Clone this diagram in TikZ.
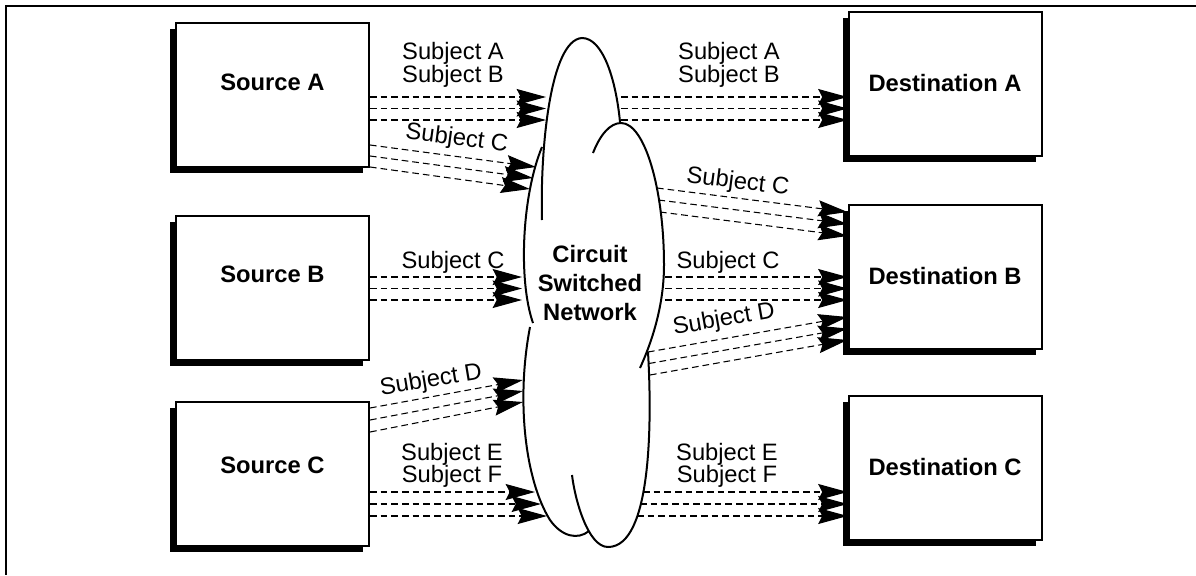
\documentclass[tikz,border=0pt]{standalone}
\usepackage{fontspec}
\setmainfont{Liberation Sans}
\usetikzlibrary{positioning, arrows.meta, calc, shadows}

\begin{document}
\begin{tikzpicture}[x=0.75pt, y=-0.75pt,
    box/.style={draw, line width=1.5pt, fill=white, minimum width=144.75pt, minimum height=108pt,
        inner sep=0pt, font=\fontsize{17.8pt}{21pt}\selectfont\bfseries,
        drop shadow={shadow xshift=-4.5pt, shadow yshift=-4.8pt, fill=black, opacity=1}},
    srclab/.style={font=\fontsize{17.8pt}{21pt}\selectfont\bfseries, inner sep=0pt},
    subj/.style={font=\fontsize{17.8pt}{16.9pt}\selectfont, inner sep=0pt},
    flow/.style={line width=0.8pt, dash pattern=on 5pt off 3pt,
        -{Stealth[length=22pt, width=12pt, inset=3pt]}},
    lobe/.style={line width=1.5pt}]

    \useasboundingbox (0,0) rectangle (1196,575);

    % Frame
    \draw[line width=1.5pt] (1196,6) -- (6,6) -- (6,575);

    % --- Sources ---
    \node[box, label={[srclab, yshift=9.4pt]center:Source A}] (srcA) at (272.5,95) {};
    \node[box, label={[srclab, yshift=10.5pt]center:Source B}] (srcB) at (272.5,288) {};
    \node[box, label={[srclab, yshift=6.2pt]center:Source C}] (srcC) at (272.5,473.5) {};

    % --- Destinations ---
    \node[box] (dstA) at (945,83.5) {Destination A};
    \node[box] (dstB) at (945,276.5) {Destination B};
    \node[box] (dstC) at (945,467.5) {Destination C};

    % --- Cloud ---
    \draw[lobe] (542,220) .. controls (540,150) and (550,40) .. (582,38)
        .. controls (603,38) and (616,80) .. (620,122);
    \draw[lobe] (593,153) .. controls (600,135) and (610,123) .. (621,123)
        .. controls (645,123) and (664,190) .. (664,265)
        .. controls (664,300) and (655,335) .. (640,368);
    \draw[lobe] (648,352) .. controls (652,420) and (652,547) .. (608,547)
        .. controls (588,547) and (575,500) .. (572,475);
    \draw[lobe] (530,327) .. controls (516,400) and (525,480) .. (550,520)
        .. controls (562,537) and (578,540) .. (589,531);
    \draw[lobe] (542,147) .. controls (522,195) and (518,280) .. (533,323);
    \node[align=center, inner sep=0pt, font=\fontsize{17.8pt}{21.75pt}\selectfont\bfseries]
        (net) at (590,283.5) {Circuit\\Switched\\Network};

    % Ports on the cloud
    \coordinate (inAB) at (546,97);
    \coordinate (inAC) at (536,167);
    \coordinate (inBC) at (522,277);
    \coordinate (inCD) at (523,380);
    \coordinate (inCE) at (535,492);
    \coordinate (outAB) at (621,97);
    \coordinate (outBC) at (657,188);
    \coordinate (outBCh) at (665,277);
    \coordinate (outBD) at (648,352);
    \coordinate (outCE) at (643,492);

    % --- Sources to cloud ---
    \foreach \k in {0,1,2} {
        \draw[flow] ($(srcA.east)+(0,2+11.5*\k)$) -- ($(inAB)+(0,11.5*\k)$);
        \draw[flow] ($(srcA.east)+(0,50+11*\k)$) -- ($(inAC)+(-3*\k,11*\k)$);
        \draw[flow] ($(srcB.east)+(0,-11+11.5*\k)$) -- ($(inBC)+(0,11.5*\k)$);
        \draw[flow] ($(srcC.east)+(0,-65.5+12*\k)$) -- ($(inCD)+(0,11*\k)$);
        \draw[flow] ($(srcC.east)+(0,18.5+12*\k)$) -- ($(inCE)+(6*\k,12*\k)$);
    }

    % --- Cloud to destinations ---
    \foreach \k in {0,1,2} {
        \draw[flow] ($(outAB)+(0,11.5*\k)$) -- ($(dstA.west)+(0,13.5+11.5*\k)$);
        \draw[flow] ($(outBC)+(1.5*\k,12*\k)$) -- ($(dstB.west)+(0,-64.5+12*\k)$);
        \draw[flow] ($(outBCh)+(0,11.5*\k)$) -- ($(dstB.west)+(0,0.5+11.5*\k)$);
        \draw[flow] ($(outBD)+(1*\k,11.5*\k)$) -- ($(dstB.west)+(0,40.5+11.5*\k)$);
        \draw[flow] ($(outCE)+(-3*\k,12*\k)$) -- ($(dstC.west)+(0,24.5+12*\k)$);
    }

    % --- Subject labels ---
    \node[subj, align=center] (lAB) at (453,65) {Subject A\\Subject B};
    \node[subj, anchor=base, rotate=-7.5] (lAC) at (456,145) {Subject C};
    \node[subj, anchor=base] (lBC) at (453,268) {Subject C};
    \node[subj, anchor=base, rotate=9.5] (lCD) at (432,387) {Subject D};
    \node[subj, align=center] (lCE) at (452,465.5) {Subject E\\Subject F};

    \node[subj, align=center] (rAB) at (729,65) {Subject A\\Subject B};
    \node[subj, anchor=base, rotate=-7.2] (rBC) at (737,188.5) {Subject C};
    \node[subj, anchor=base] (rBCh) at (728,268) {Subject C};
    \node[subj, anchor=base, rotate=10] (rBD) at (725,326) {Subject D};
    \node[subj, align=center] (rCE) at (727,465.5) {Subject E\\Subject F};

\end{tikzpicture}
\end{document}
